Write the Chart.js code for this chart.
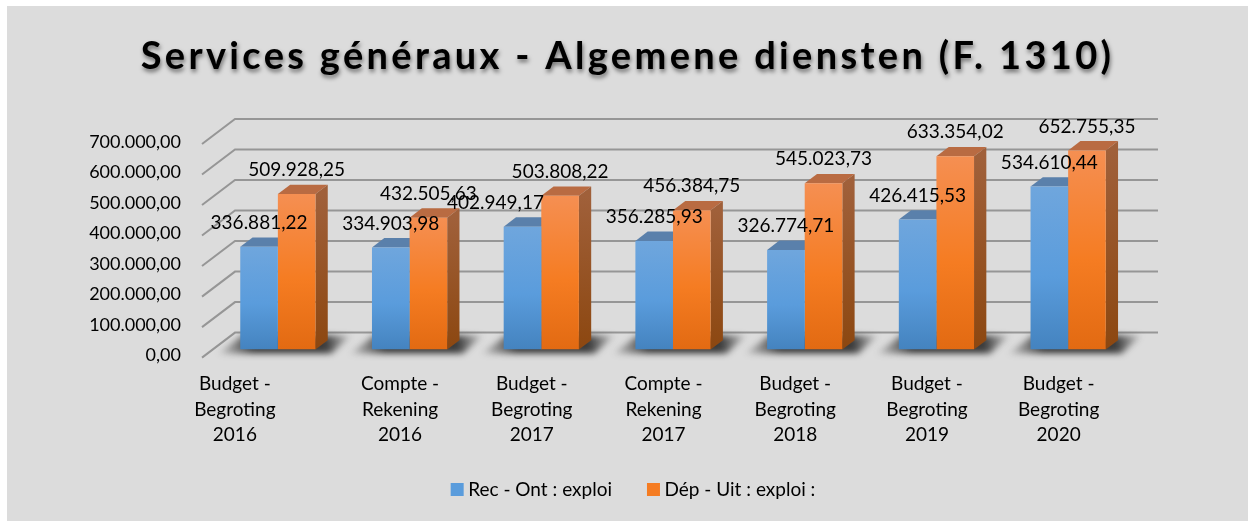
<!DOCTYPE html>
<html><head><meta charset="utf-8">
<style>html,body{margin:0;padding:0;background:#fff}canvas{display:block}</style>
<script src="https://cdn.jsdelivr.net/npm/chart.js@4/dist/chart.umd.min.js"></script>
</head><body>
<canvas id="c" width="1248" height="521"></canvas>
<script>
const categories = [
  ["Budget -","Begroting","2016"],["Compte -","Rekening","2016"],["Budget -","Begroting","2017"],
  ["Compte -","Rekening","2017"],["Budget -","Begroting","2018"],["Budget -","Begroting","2019"],["Budget -","Begroting","2020"]];
const recettes = [336881.22,334903.98,402949.17,356285.93,326774.71,426415.53,534610.44];
const depenses = [509928.25,432505.63,503808.22,456384.75,545023.73,633354.02,652755.35];
const seriesNames = ["Rec - Ont : exploi","Dép - Uit : exploi :"];
const titleText = "Services généraux - Algemene diensten (F. 1310)";
const FONT = "Lato";
const fmt = v => new Intl.NumberFormat('de-DE',{minimumFractionDigits:2,maximumFractionDigits:2}).format(v);

const DEPTH = {dx:12.3, dy:-9.3};
const WALL = {dx:23, dy:-17};
const SIDE = {dx:-33, dy:25};
const palettes = [
  {stops:['#6fa6dd','#5a9cdc','#4483bf'], top:'#5a80ab', side:['#4f7aa8','#3a6590']},
  {stops:['#f58f52','#f57c22','#e26a12'], top:'#b96b42', side:['#a0603a','#8c4710']}
];
function barFill(ctx){
  const p = palettes[ctx.datasetIndex];
  if(ctx.type!=='data') return p.stops[1];
  const y = ctx.chart.scales.y;
  const y0=y&&y.getPixelForValue(ctx.raw), y1=y&&y.getPixelForValue(0);
  if(!Number.isFinite(y0)||!Number.isFinite(y1)) return p.stops[1];
  const g = ctx.chart.ctx.createLinearGradient(0,y0,0,y1);
  g.addColorStop(0,p.stops[0]);g.addColorStop(.55,p.stops[1]);g.addColorStop(1,p.stops[2]);
  return g;
}
const scene = {
  id:'scene',
  beforeDraw(chart){
    const c=chart.ctx;
    c.save();c.fillStyle='#dcdcdc';c.fillRect(7,6,1241,515);c.restore();
    chart.scales.y.left=60; // the tick text is wider than the axis box
    chart.scales.x.bottom=521; // category text overlaps the legend's band
    // category-label nudges so the tick text sits where the reference has it
    const items=chart.scales.x.getLabelItems();
    items.forEach((it,i)=>{ if(!it._n){it._n=1; it.options.translation[0]+= i===0?-43:-9.5;} });
    if(!chart.titleBlock._patched){
      chart.titleBlock._patched=true;
      const d=chart.titleBlock.draw.bind(chart.titleBlock);
      chart.titleBlock.draw=a=>{
        c.save();c.letterSpacing='3.33px';c.shadowColor='rgba(0,0,0,.5)';c.shadowBlur=4;c.shadowOffsetY=3;c.shadowOffsetX=1;
        c.translate(-8,0);d(a);c.restore();
      };
    }
  },
  beforeDatasetsDraw(chart){
    const c=chart.ctx,y=chart.scales.y,a=chart.chartArea;
    c.save();
    // walls
    c.strokeStyle='#969696';c.lineWidth=2;
    y.ticks.forEach(t=>{
      const py=y.getPixelForValue(t.value)+WALL.dy, lx=a.left+WALL.dx;
      c.beginPath();c.moveTo(lx+SIDE.dx,py+SIDE.dy);c.lineTo(lx,py);c.lineTo(1158,py);c.stroke();
    });
    // floor shadow
    const m0=chart.getDatasetMeta(0),m1=chart.getDatasetMeta(1);
    c.save();c.filter='blur(3px)';
    m0.data.forEach((b0,i)=>{
      const b1=m1.data[i],l=b0.x-b0.width/2,r=b1.x+b1.width/2,base=b0.base;
      const g=c.createLinearGradient(l-26,0,r+38,0);
      g.addColorStop(0,'rgba(50,50,50,0)');g.addColorStop(.28,'rgba(50,50,50,.95)');
      g.addColorStop(.8,'rgba(50,50,50,.95)');g.addColorStop(1,'rgba(50,50,50,0)');
      c.fillStyle=g;
      c.beginPath();c.moveTo(l-22,base+4);c.lineTo(r+16,base+4);c.lineTo(r+36,base-14);c.lineTo(l+2,base-14);c.closePath();c.fill();
    });
    c.restore();
    // depth faces
    [m0,m1].forEach((m,di)=>{
      const p=palettes[di];
      m.data.forEach(b=>{
        const l=b.x-b.width/2,r=b.x+b.width/2,t=b.y,bs=b.base;
        c.fillStyle=p.top;
        c.beginPath();c.moveTo(l,t);c.lineTo(r,t);c.lineTo(r+DEPTH.dx,t+DEPTH.dy);c.lineTo(l+DEPTH.dx,t+DEPTH.dy);c.closePath();c.fill();
        const g=c.createLinearGradient(0,t,0,bs);g.addColorStop(0,p.side[0]);g.addColorStop(1,p.side[1]);
        c.fillStyle=g;
        c.beginPath();c.moveTo(r,t);c.lineTo(r+DEPTH.dx,t+DEPTH.dy);c.lineTo(r+DEPTH.dx,bs+DEPTH.dy);c.lineTo(r,bs);c.closePath();c.fill();
      });
    });
    c.restore();
  },
  afterDatasetsDraw(chart){
    const c=chart.ctx;
    c.save();c.fillStyle='#000';c.font='19px '+FONT;c.textAlign='center';c.textBaseline='middle';
    chart.data.datasets.forEach((ds,di)=>{
      chart.getDatasetMeta(di).data.forEach((b,i)=>{
        const shift=(di===0&&i===2)?-27:0;
        c.fillText(fmt(ds.data[i]),b.x+shift,b.y-24);
      });
    });
    c.restore();
  }
};
new Chart(document.getElementById('c'),{
  type:'bar',
  data:{labels:categories,datasets:[
    {label:seriesNames[0],data:recettes,backgroundColor:barFill,borderWidth:0},
    {label:seriesNames[1],data:depenses,backgroundColor:barFill,borderWidth:0}
  ]},
  options:{
    responsive:false,animation:false,
    layout:{padding:{left:137,right:114,top:0,bottom:12}},
    datasets:{bar:{categoryPercentage:.571,barPercentage:1}},
    plugins:{
      title:{display:true,text:titleText,color:'#000',font:{family:FONT,size:38,weight:'bold',lineHeight:1},padding:{top:38,bottom:60}},
      legend:{position:'bottom',labels:{
        font:{family:FONT,size:19},color:'#000',boxWidth:3,boxHeight:3,padding:40,
        generateLabels(ch){return Chart.defaults.plugins.legend.labels.generateLabels(ch).map(i=>{const col=palettes[i.datasetIndex].stops[1];return {...i,fillStyle:col,lineWidth:10,strokeStyle:col};});}
      }},
      tooltip:{enabled:false}
    },
    scales:{
      x:{grid:{display:false},border:{display:false},
        afterFit(s){s.height-=22;},
        ticks:{autoSkip:false,maxRotation:0,color:'#000',padding:14,font:{family:FONT,size:19,lineHeight:1.34}}},
      y:{min:0,max:700000,grid:{display:false},border:{display:false},
        afterFit(s){s.width=75;},
        ticks:{stepSize:100000,color:'#000',padding:23,labelOffset:6,font:{family:FONT,size:18},callback:v=>fmt(v)}}
    }
  },
  plugins:[scene]
});
</script>
</body></html>
